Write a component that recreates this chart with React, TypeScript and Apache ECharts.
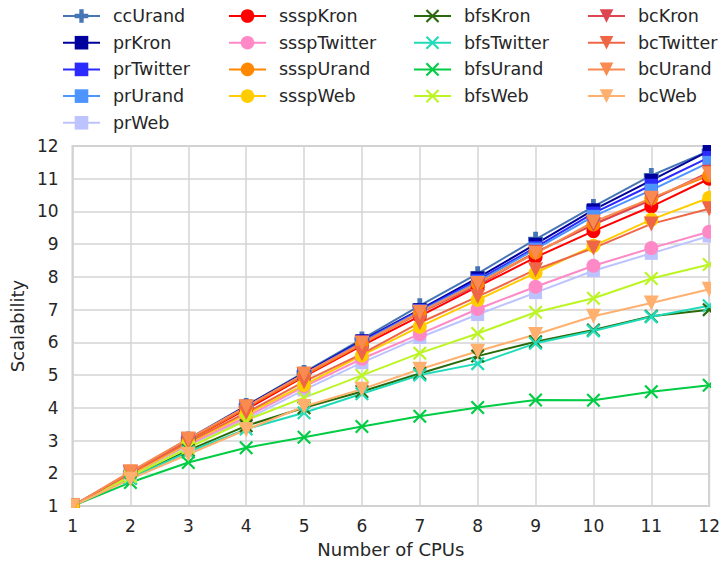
import React, { useEffect, useRef } from "react";
import * as echarts from "echarts";

const cpus = [1, 2, 3, 4, 5, 6, 7, 8, 9, 10, 11, 12];
const yTicks = [1, 2, 3, 4, 5, 6, 7, 8, 9, 10, 11, 12];

const ccUrand = [1, 2.02, 3.05, 4.07, 5.08, 6.1, 7.12, 8.1, 9.15, 10.15, 11.1, 11.85];
const prKron = [1, 2.0, 3.03, 4.05, 5.05, 6.05, 7.0, 7.97, 9.0, 10.05, 10.95, 11.85];
const prTwitter = [1, 2.0, 3.02, 4.03, 5.03, 6.03, 6.98, 7.9, 8.9, 9.95, 10.8, 11.65];
const prUrand = [1, 2.0, 3.02, 4.02, 5.02, 6.0, 6.95, 7.85, 8.85, 9.85, 10.65, 11.5];
const prWeb = [1, 1.95, 2.85, 3.65, 4.55, 5.38, 6.15, 6.85, 7.52, 8.19, 8.72, 9.25];
const ssspKron = [1, 1.98, 3.0, 3.95, 4.95, 5.9, 6.8, 7.7, 8.6, 9.4, 10.15, 11.0];
const ssspTwitter = [1, 1.95, 2.88, 3.72, 4.65, 5.5, 6.25, 7.02, 7.7, 8.34, 8.88, 9.38];
const ssspUrand = [1, 2.0, 3.0, 4.0, 4.98, 5.95, 6.9, 7.8, 8.75, 9.6, 10.4, 11.1];
const ssspWeb = [1, 1.97, 2.92, 3.8, 4.7, 5.6, 6.48, 7.3, 8.12, 8.95, 9.75, 10.42];
const bfsKron = [1, 1.85, 2.7, 3.45, 4.0, 4.5, 5.05, 5.58, 6.02, 6.38, 6.8, 7.0];
const bfsTwitter = [1, 1.85, 2.65, 3.35, 3.85, 4.43, 5.0, 5.35, 5.97, 6.35, 6.78, 7.12];
const bfsUrand = [1, 1.72, 2.33, 2.78, 3.1, 3.43, 3.74, 4.01, 4.24, 4.23, 4.49, 4.69];
const bfsWeb = [1, 1.9, 2.78, 3.62, 4.31, 4.99, 5.67, 6.27, 6.92, 7.35, 7.95, 8.38];
const bcKron = [1, 2.02, 3.03, 4.02, 5.02, 5.98, 6.9, 7.75, 8.75, 9.6, 10.35, 11.2];
const bcTwitter = [1, 2.0, 2.95, 3.85, 4.8, 5.65, 6.6, 7.4, 8.22, 8.88, 9.62, 10.08];
const bcUrand = [1, 2.05, 3.05, 4.03, 5.03, 5.97, 6.92, 7.8, 8.72, 9.68, 10.4, 11.15];
const bcWeb = [1, 1.82, 2.58, 3.33, 4.04, 4.57, 5.18, 5.73, 6.24, 6.8, 7.2, 7.62];

const PLUS = "path://M3.4,0H6.6V3.4H10V6.6H6.6V10H3.4V6.6H0V3.4H3.4Z";
const XMARK = "path://M0,1.1L1.1,0L5,3.9L8.9,0L10,1.1L6.1,5L10,8.9L8.9,10L5,6.1L1.1,10L0,8.9L3.9,5Z";

type Spec = { name: string; data: number[]; color: string; symbol: string; size: number; rotate?: number };

const specs: Spec[] = [
  { name: "ccUrand", data: ccUrand, color: "#4575b4", symbol: PLUS, size: 15 },
  { name: "prKron", data: prKron, color: "#00009c", symbol: "rect", size: 13 },
  { name: "prTwitter", data: prTwitter, color: "#2b2bff", symbol: "rect", size: 13 },
  { name: "prUrand", data: prUrand, color: "#4d94ff", symbol: "rect", size: 13 },
  { name: "prWeb", data: prWeb, color: "#bcc3ff", symbol: "rect", size: 13 },
  { name: "ssspKron", data: ssspKron, color: "#ff0000", symbol: "circle", size: 14 },
  { name: "ssspTwitter", data: ssspTwitter, color: "#ff88c6", symbol: "circle", size: 14 },
  { name: "ssspUrand", data: ssspUrand, color: "#ff8800", symbol: "circle", size: 14 },
  { name: "ssspWeb", data: ssspWeb, color: "#ffcc00", symbol: "circle", size: 14 },
  { name: "bfsKron", data: bfsKron, color: "#2a6a0a", symbol: XMARK, size: 14 },
  { name: "bfsTwitter", data: bfsTwitter, color: "#1fdbb8", symbol: XMARK, size: 14 },
  { name: "bfsUrand", data: bfsUrand, color: "#00cc44", symbol: XMARK, size: 14 },
  { name: "bfsWeb", data: bfsWeb, color: "#bbf522", symbol: XMARK, size: 14 },
  { name: "bcKron", data: bcKron, color: "#dd4650", symbol: "triangle", size: 15, rotate: 180 },
  { name: "bcTwitter", data: bcTwitter, color: "#ee6645", symbol: "triangle", size: 15, rotate: 180 },
  { name: "bcUrand", data: bcUrand, color: "#f98a50", symbol: "triangle", size: 15, rotate: 180 },
  { name: "bcWeb", data: bcWeb, color: "#ffb06e", symbol: "triangle", size: 15, rotate: 180 },
];

const legendCols: string[][] = [
  ["ccUrand", "prKron", "prTwitter", "prUrand", "prWeb"],
  ["ssspKron", "ssspTwitter", "ssspUrand", "ssspWeb"],
  ["bfsKron", "bfsTwitter", "bfsUrand", "bfsWeb"],
  ["bcKron", "bcTwitter", "bcUrand", "bcWeb"],
];
const legendLefts = [62, 228, 413, 587];

const FONT = "DejaVu Sans";
const TEXT = "#262626";

// plot box (pixels)
const GL = 72, GR = 13, GT = 146, GB = 56;
const W = 723, H = 563;

export default function App() {
  const ref = useRef<HTMLDivElement>(null);
  useEffect(() => {
    if (!ref.current) return;
    const chart = echarts.init(ref.current, undefined, { renderer: "svg" });
    const pr = W - GR, pb = H - GB;
    const mask = { fill: "#ffffff" };
    const option: any = {
      animation: false,
      backgroundColor: "#ffffff",
      textStyle: { fontFamily: FONT },
      legend: legendCols.map((col, i) => ({
        data: col,
        orient: "vertical",
        left: legendLefts[i],
        top: 7,
        itemWidth: 37,
        itemHeight: 17,
        itemGap: 8.7,
        padding: 0,
        selectedMode: false,
        textStyle: { fontSize: 17.5, color: TEXT, fontFamily: FONT, padding: [0, 0, 0, 8] },
      })),
      graphic: [
        { type: "rect", z: 100, silent: true, shape: { x: GL - 11, y: GT - 10, width: 10, height: pb - GT + 20 }, style: mask },
        { type: "rect", z: 100, silent: true, shape: { x: pr + 1, y: GT - 10, width: 10, height: pb - GT + 20 }, style: mask },
        { type: "rect", z: 100, silent: true, shape: { x: GL - 11, y: GT - 11, width: pr - GL + 22, height: 10 }, style: mask },
        { type: "rect", z: 100, silent: true, shape: { x: GL - 11, y: pb + 1, width: pr - GL + 22, height: 10 }, style: mask },
      ],
      grid: {
        left: GL,
        right: GR,
        top: GT,
        bottom: GB,
        show: true,
        borderColor: "#cccccc",
        borderWidth: 2,
        backgroundColor: "transparent",
      },
      xAxis: {
        type: "value",
        min: 1,
        max: 12,
        interval: 1,
        name: "Number of CPUs",
        nameLocation: "middle",
        nameGap: 34,
        nameTextStyle: { fontSize: 18, color: TEXT, fontFamily: FONT },
        axisLine: { show: false },
        axisTick: { show: false },
        axisLabel: { fontSize: 17, color: TEXT, margin: 11, fontFamily: FONT },
        splitLine: { show: true, lineStyle: { color: "#d4d4d4", width: 1.5 } },
      },
      yAxis: {
        type: "value",
        min: yTicks[0],
        max: yTicks[yTicks.length - 1],
        interval: 1,
        name: "Scalability",
        nameLocation: "middle",
        nameGap: 42,
        nameTextStyle: { fontSize: 18, color: TEXT, fontFamily: FONT },
        axisLine: { show: false },
        axisTick: { show: false },
        axisLabel: { fontSize: 17, color: TEXT, margin: 14, fontFamily: FONT },
        splitLine: { show: true, lineStyle: { color: "#d4d4d4", width: 1.5 } },
      },
      series: specs.map((s) => ({
        name: s.name,
        type: "line",
        data: s.data.map((v, i) => [cpus[i], v]),
        symbol: s.symbol,
        symbolSize: s.size,
        symbolRotate: s.rotate || 0,
        showAllSymbol: true,
        color: s.color,
        lineStyle: { color: s.color, width: 2 },
        itemStyle: { color: s.color },
        emphasis: { disabled: true },
        clip: false,
      })),
    };
    chart.setOption(option);
    return () => chart.dispose();
  }, []);
  return (
    <div
      ref={ref}
      style={{ position: "absolute", left: 0, top: 0, width: W, height: H }}
    />
  );
}
